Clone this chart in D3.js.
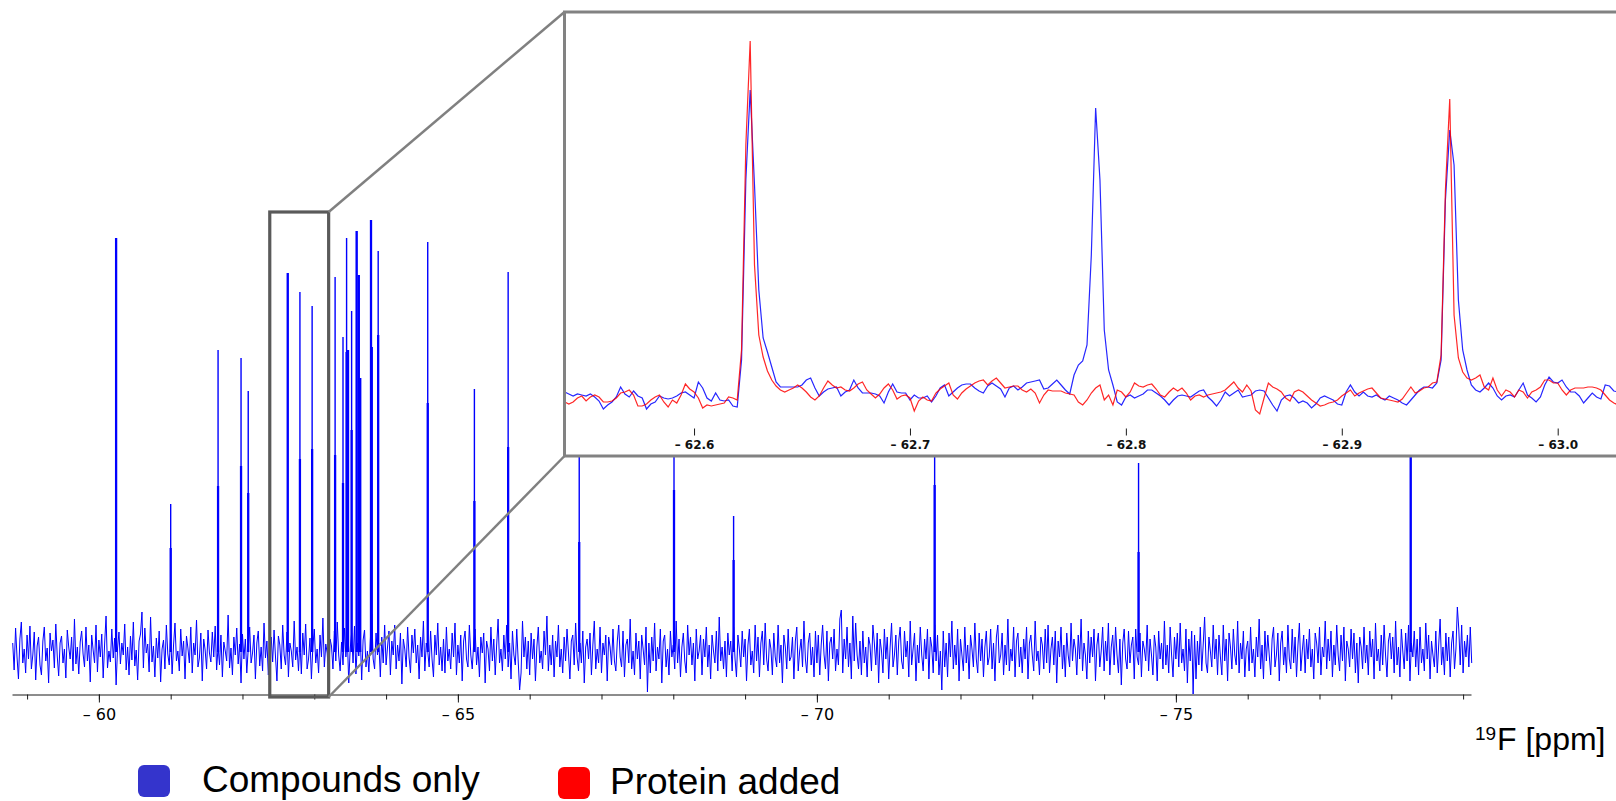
<!DOCTYPE html>
<html>
<head>
<meta charset="utf-8">
<script src="https://cdn.jsdelivr.net/npm/d3@7"></script>
<style>
  body { margin: 0; background: #fff; }
  svg { display: block; }
  .tick line, .domain { stroke: #1a1a1a; }
</style>
</head>
<body>
<div id="chart"></div>
<script>
// ---- full spectrum (ppm, intensity in arbitrary units) ----
var mainStart = -58.80, mainStep = 0.02;
var mainNoise = [
  9,-18,24,-5,-27,13,30,-11,3,-21,17,-7,26,-17,-3,20,-28,6,15,-13,
  -23,11,25,-9,4,-31,19,1,12,-16,28,-4,-24,9,16,-11,3,-26,22,5,
  -7,15,-19,33,-12,5,-22,10,21,-2,-15,25,-9,7,-30,17,2,-11,27,-20,
  12,-5,18,-26,8,36,-16,1,-10,23,-6,14,-33,4,20,-12,9,-3,28,-18,
  5,-23,16,-8,30,-14,2,-28,11,18,40,-16,24,-1,8,-20,35,-10,6,-25,
  14,-6,21,-30,3,12,-17,27,-2,-13,18,-22,7,29,-9,1,-19,23,-4,11,
  -27,16,4,-11,25,-21,9,-3,32,-15,-6,19,-29,13,2,-17,22,-1,-10,20,
  -5,26,-18,6,-13,17,-25,10,1,-9,37,-16,4,-23,15,-3,24,-12,8,-31,
  18,-7,13,-21,3,25,-11,-1,17,-27,9,21,-14,5,-19,29,-6,11,-23,2,
  15,-10,22,-5,-29,16,7,-17,27,-3,-13,20,-25,9,1,-15,31,-8,5,-19,
  11,-22,19,-3,28,-17,-7,14,-27,5,23,-11,3,-21,17,-5,34,-15,8,-1,
  -25,13,6,-17,21,-9,30,-3,-19,10,-13,24,-5,15,-31,3,19,-11,26,-22,
  9,-4,17,-28,12,22,-15,1,-20,11,38,-7,-17,19,-3,9,-25,15,-11,27,
  -13,5,21,-23,11,-3,27,-17,7,-9,19,-32,13,3,-15,25,-5,-21,17,-1,
  23,-11,7,-27,15,-5,31,-19,9,1,-15,21,-7,-25,17,-3,29,-13,5,-19,
  13,-21,25,-9,3,-17,19,-5,29,-23,7,-11,17,-29,11,21,-7,-15,27,-3,
  -17,9,23,-13,5,-25,15,-1,19,-31,11,3,-19,25,-9,13,-23,7,33,-11,
  3,-19,17,-7,27,-15,9,-27,21,-3,-13,23,-9,-38,-21,31,-5,15,-17,11,
  -23,19,-7,13,-29,5,25,-11,1,-17,21,-3,36,-19,7,-13,17,-25,11,-5,
  27,-15,3,-21,15,-9,23,-1,-27,11,17,-13,29,-5,-19,9,-11,21,-31,5,
  13,-7,19,-23,7,31,-17,3,-11,25,-21,9,-3,17,-29,15,5,-13,23,-9,
  -19,11,27,-5,-15,21,-25,7,13,-11,33,-17,1,-23,19,-7,11,-27,17,3,
  -13,25,-40,9,-21,15,-9,29,-19,5,-7,23,-31,11,17,-15,3,-23,21,-5,
  7,-17,31,-11,13,-25,5,19,-9,-21,27,-3,15,-13,9,-29,23,-7,1,17,
  -23,13,-5,25,-15,7,-27,17,1,-11,21,-19,35,-9,5,-17,11,-25,19,-3,
  11,-19,25,-7,-25,17,3,-15,21,-5,13,-29,7,23,-13,1,-21,27,-9,15,
  -25,9,21,-13,29,-7,-19,13,3,-23,19,-5,-15,27,-11,7,-31,17,5,-17,
  23,-9,-5,15,-27,11,25,-19,1,13,-15,31,-7,-21,9,19,-13,5,-25,21,
  -11,17,-23,7,27,-3,-17,21,-29,9,15,-7,23,-19,3,-13,33,42,-21,13,
  -7,25,-15,9,-27,36,-9,29,-3,-17,11,-23,21,-11,5,-25,15,7,-19,27,
  9,-13,19,-31,13,1,-21,23,-7,15,-27,5,29,-15,-3,17,-23,11,25,-9,
  -17,21,-5,11,-25,31,-13,3,19,-29,7,-11,25,-3,-19,13,-7,23,-27,15,
  5,-21,27,-9,17,-23,1,-38,21,-15,9,-25,19,-5,31,-17,7,-13,23,-29,
  13,-3,-19,25,-11,7,-27,17,3,-15,29,-7,-21,19,-9,13,-25,5,21,-13,
  -5,23,-17,9,-29,15,27,-11,-3,19,-23,7,-13,33,-19,3,-9,25,-25,11,
  19,-15,5,-21,13,-7,25,-27,9,17,-3,-19,31,-9,1,-23,15,7,-17,23,
  -11,27,-21,3,15,-13,21,-31,11,-5,25,-17,7,-25,19,-3,-15,29,-9,13,
  3,-23,17,-7,33,-19,9,-3,-27,21,-11,15,-5,23,-29,7,19,-15,1,25,
  -19,11,-9,29,-23,5,17,-13,25,-3,-21,13,-33,9,23,-7,-17,21,-11,7,
  15,-27,23,-5,-13,19,-25,11,3,-9,27,-19,13,-3,-23,17,5,-29,21,-7,
  9,-17,31,-13,7,-21,25,-3,-25,15,-7,19,-15,29,-11,3,-19,23,-31,13,
  -9,21,-42,17,-27,11,-13,25,-19,7,35,-11,-21,15,1,-15,27,-7,13,-23,
  17,-5,-23,27,-9,13,-29,19,5,-17,23,-3,-13,31,-21,9,-7,21,-25,3,
  11,-19,25,-11,3,-25,15,-5,33,-17,7,-27,21,-9,17,-3,-23,13,25,-15,
  -3,19,-29,9,21,-13,5,-21,27,-7,-17,23,-11,15,-25,7,29,-19,1,17,
  -21,13,-7,23,-15,3,-27,19,9,-11,25,-23,5,-5,31,-17,13,-9,21,-25,
  7,-13,27,-3,-19,17,-9,25,-29,11,3,-15,23,-7,19,-21,9,-31,15,5,
  -17,25,-11,7,-23,21,-5,13,-27,29,-9,3,-19,17,-13,27,-3,-25,11,19,
  -7,15,-21,31,-13,5,-25,23,1,-17,19,-9,27,-29,9,-5,21,-15,13,-23,
  25,-11,3,-19,29,-7,17,-27,11,-3,-15,21,-21,7,33,-13,5,-23,19,-9,
  15,-25,9,21,-17,3,45,23,-13,27,-21,11,-5,17,-15,25,-11
];
var peakPpm = [-60.24,-61.00,-61.66,-61.98,-62.08,-62.63,-62.80,-62.97,-63.29,-63.40,
               -63.45,-63.47,-63.52,-63.59,-63.62,-63.64,-63.79,-63.80,-63.89,-64.58,
               -65.23,-65.70,-66.69,-68.01,-68.84,-71.64,-74.48,-78.27];
var peakTop = [414,148,302,294,261,379,360,346,375,315,
               414,302,341,421,377,274,432,305,401,410,
               263,380,380,370,136,380,189,400];
var peakShoulder = [414,104,166,186,159,379,193,203,197,169,
                    300,302,222,421,377,274,432,305,317,249,
                    151,205,110,162,92,167,100,400];
var mainTicks = d3.range(-59, -79.5, -1);
var mainLabels = [-60, -65, -70, -75];
var zoomBox = [-62.38, -63.20];

// ---- expanded region ----
var insetStart = -62.540, insetStep = 0.002;
var compoundsOnly = [
  6,4,2,4,3,2,4,1,-3,-11,
  -7,-4,1,11,4,1,7,2,0,-11,
  -6,-4,2,0,-1,0,2,5,6,3,
  0,16,10,0,-3,5,-2,-3,-2,-8,
  -9,38,218,308,213,108,60,46,31,16,
  11,11,11,11,11,13,18,20,10,2,
  6,9,10,11,2,6,8,18,10,5,
  5,5,4,2,-5,6,14,6,5,5,
  -2,3,0,0,2,-4,2,10,13,2,
  6,10,13,14,14,10,7,5,12,15,
  12,9,1,10,12,8,11,15,16,17,
  18,9,10,14,18,13,8,4,23,33,
  37,53,143,290,218,68,28,13,-4,-7,
  1,3,0,2,4,8,8,5,2,-2,
  -7,-2,2,3,2,1,4,7,8,1,
  -3,-8,-2,6,2,5,8,1,2,3,
  7,8,7,0,-7,-13,-2,2,3,0,
  -5,-3,-5,-10,-6,0,2,0,-2,-6,
  -7,6,13,6,2,6,2,1,3,0,
  -2,2,0,-2,-5,-7,-2,3,8,11,
  11,10,15,38,198,268,233,98,48,28,
  13,8,6,10,15,10,2,-2,2,3,
  1,8,15,3,0,-4,1,13,21,16,
  15,18,11,6,6,2,-5,0,5,1,
  -1,13,12,7,6,5
];
var proteinAdded = [
  -4,-6,-4,0,2,-3,1,3,1,-4,
  -4,-3,0,5,6,8,3,-8,-8,-6,
  -2,1,3,-4,-9,-2,-5,3,14,9,
  6,0,-10,-7,-8,-7,-6,-5,1,0,
  -2,48,253,357,133,63,41,27,18,12,
  8,6,8,10,13,10,6,1,-2,2,
  10,17,13,10,11,8,7,10,14,16,
  8,4,0,4,10,14,8,-1,2,3,
  0,-13,-3,1,-2,-3,5,9,12,15,
  3,-1,5,9,12,15,17,18,13,17,
  20,15,10,11,12,12,8,6,9,5,
  -5,3,8,7,7,7,5,4,3,-4,
  -7,-2,5,10,13,-2,3,-7,8,6,
  1,6,15,12,11,13,14,9,3,1,
  6,10,7,10,5,-2,2,3,1,3,
  4,5,6,8,12,16,10,6,13,7,
  -12,-16,0,15,11,9,6,0,-3,6,
  8,6,2,-2,-5,-8,-7,-5,-4,-2,
  2,5,8,2,5,7,9,10,5,0,
  -1,-2,-3,-4,-1,5,11,5,7,10,
  11,15,16,43,208,299,83,40,26,20,
  18,20,23,11,8,20,8,2,8,6,
  1,8,6,0,6,8,11,18,18,15,
  15,8,3,8,10,10,10,11,11,10,
  8,3,-2,-5,-7,-8
];
var insetTicks = d3.range(-62.54, -63.03, -0.02);
var insetLabels = [-62.6, -62.7, -62.8, -62.9, -63.0];

var legendNames = ["Compounds only", "Protein added"];
var legendColors = ["#3434cc", "#ff0000"];

var w = 1616, h = 801;

var svg = d3.select("#chart").append("svg")
  .attr("width", w)
  .attr("height", h);

// scales
var xMain = d3.scaleLinear().domain([-58.79, -79.11]).range([12, 1471]);
var yMain = d3.scaleLinear().domain([0, 440]).range([652, 212]);

var xInset = d3.scaleLinear().domain([-62.5407, -63.027]).range([566, 1616]);
var yInset = d3.scaleLinear().domain([0, 360]).range([398, 38]);

// main axis
var axisY = 694.5;
svg.append("g")
  .attr("transform", "translate(0," + axisY + ")")
  .call(d3.axisBottom(xMain).tickValues(mainTicks).tickSize(5).tickSizeOuter(0).tickFormat(""));
var gMajor = svg.append("g")
  .attr("transform", "translate(0," + axisY + ")")
  .call(d3.axisBottom(xMain).tickValues(mainLabels).tickSize(8).tickSizeOuter(0).tickPadding(6)
        .tickFormat(function(d){ return "\u2013 " + Math.abs(d); }));
gMajor.select(".domain").remove();
gMajor.selectAll("text")
  .style("font-family", "DejaVu Sans")
  .style("font-size", "16px")
  .style("fill", "#000");

// main noise line
var mainLine = d3.line()
  .x(function(d, i){ return xMain(mainStart - i * mainStep); })
  .y(function(d){ return yMain(d); });

svg.append("path")
  .datum(mainNoise)
  .attr("d", mainLine)
  .attr("fill", "none")
  .attr("stroke", "#0000ff")
  .attr("stroke-width", 1);

// peaks
var peaks = peakPpm.map(function(p, i){
  return { ppm: p, top: peakTop[i], shoulder: peakShoulder[i] };
});

svg.selectAll(".peak")
  .data(peaks)
  .enter()
  .append("line")
  .attr("class", "peak")
  .attr("x1", function(d){ return xMain(d.ppm); })
  .attr("x2", function(d){ return xMain(d.ppm); })
  .attr("y1", yMain(0))
  .attr("y2", function(d){ return yMain(d.top); })
  .attr("stroke", "#0000ff")
  .attr("stroke-width", 1.4);

svg.selectAll(".peakbase")
  .data(peaks)
  .enter()
  .append("line")
  .attr("class", "peakbase")
  .attr("x1", function(d){ return xMain(d.ppm); })
  .attr("x2", function(d){ return xMain(d.ppm); })
  .attr("y1", yMain(0))
  .attr("y2", function(d){ return yMain(d.shoulder); })
  .attr("stroke", "#0000ff")
  .attr("stroke-width", 2.3);

// zoom box on the main spectrum
var bx0 = xMain(zoomBox[0]), bx1 = xMain(zoomBox[1]);
var by0 = yMain(440), by1 = 697;
svg.append("rect")
  .attr("x", bx0)
  .attr("y", by0)
  .attr("width", bx1 - bx0)
  .attr("height", by1 - by0)
  .attr("fill", "none")
  .attr("stroke", "#5a5a5a")
  .attr("stroke-width", 3.2);

// connector lines + inset frame
var fx = 564.5, fy = 12, fb = 456;
svg.append("line")
  .attr("x1", bx1).attr("y1", by0).attr("x2", fx).attr("y2", fy)
  .attr("stroke", "#808080").attr("stroke-width", 2.5);
svg.append("line")
  .attr("x1", bx1).attr("y1", by1).attr("x2", fx).attr("y2", fb)
  .attr("stroke", "#808080").attr("stroke-width", 2.5);

svg.append("rect")
  .attr("x", fx)
  .attr("y", fy)
  .attr("width", 1100)
  .attr("height", fb - fy)
  .attr("fill", "#fff")
  .attr("stroke", "#828282")
  .attr("stroke-width", 3);

svg.append("clipPath").attr("id", "insetClip")
  .append("rect")
  .attr("x", 566).attr("y", 14).attr("width", 1060).attr("height", 440);

// inset axis
var insetAxisY = 428.5;
svg.append("g")
  .attr("transform", "translate(0," + insetAxisY + ")")
  .attr("clip-path", "url(#insetClip)")
  .call(d3.axisBottom(xInset).tickValues(insetTicks).tickSize(4).tickSizeOuter(0).tickFormat(""));
var gInsetMajor = svg.append("g")
  .attr("transform", "translate(0," + insetAxisY + ")")
  .call(d3.axisBottom(xInset).tickValues(insetLabels).tickSize(7).tickSizeOuter(0).tickPadding(5)
        .tickFormat(function(d){ return "\u2013 " + Math.abs(d).toFixed(1); }));
gInsetMajor.select(".domain").remove();
gInsetMajor.selectAll("text")
  .style("font-family", "DejaVu Sans")
  .style("font-weight", "bold")
  .style("font-size", "12px")
  .style("fill", "#111");

// inset spectra
var insetLine = d3.line()
  .x(function(d, i){ return xInset(insetStart - i * insetStep); })
  .y(function(d){ return yInset(d); });

var gInset = svg.append("g").attr("clip-path", "url(#insetClip)");
gInset.append("path")
  .datum(compoundsOnly)
  .attr("d", insetLine)
  .attr("fill", "none")
  .attr("stroke", "#0000ff")
  .attr("stroke-opacity", 0.85)
  .attr("stroke-width", 1.2);
gInset.append("path")
  .datum(proteinAdded)
  .attr("d", insetLine)
  .attr("fill", "none")
  .attr("stroke", "#ff0000")
  .attr("stroke-opacity", 0.85)
  .attr("stroke-width", 1.2);

// axis title
svg.append("text")
  .attr("x", 1475).attr("y", 740)
  .style("font-family", "Liberation Sans, Arial")
  .style("font-size", "19px")
  .text("19");
svg.append("text")
  .attr("x", 1497).attr("y", 750)
  .style("font-family", "Liberation Sans, Arial")
  .style("font-size", "32px")
  .text("F [ppm]");

// legend
var legendX = [138, 558], legendY = [765, 767], textX = [202, 610], textY = [792, 794];
legendNames.forEach(function(name, i){
  svg.append("rect")
    .attr("x", legendX[i]).attr("y", legendY[i])
    .attr("width", 32).attr("height", 32)
    .attr("rx", 6)
    .attr("fill", legendColors[i]);
  svg.append("text")
    .attr("x", textX[i]).attr("y", textY[i])
    .style("font-family", "Liberation Sans, Arial")
    .style("font-size", "37px")
    .text(name);
});
</script>
</body>
</html>
